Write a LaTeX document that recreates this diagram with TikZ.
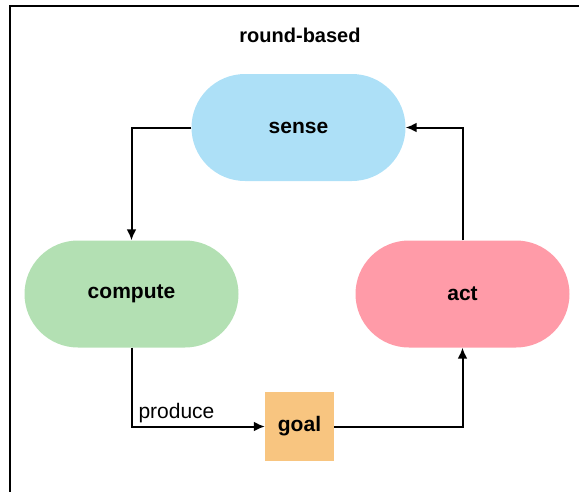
\documentclass[tikz,border=0pt]{standalone}
\usepackage{fontspec}
\setmainfont{Liberation Sans}
\usetikzlibrary{positioning, arrows.meta}

\definecolor{senseblue}{HTML}{ADE0F7}
\definecolor{computegreen}{HTML}{B3E0B3}
\definecolor{actred}{HTML}{FF9BA8}
\definecolor{goalorange}{HTML}{F8C580}

\begin{document}
\begin{tikzpicture}[x=1pt, y=-1pt,
        stage/.style={rectangle, rounded corners=53.5pt, minimum width=214pt, minimum height=107pt, inner sep=0pt, font=\fontsize{21}{24}\selectfont\bfseries},
        goalbox/.style={rectangle, fill=goalorange, minimum width=69pt, minimum height=69pt, inner sep=0pt, font=\fontsize{21}{24}\selectfont\bfseries},
        flow/.style={-{Latex[length=11pt, width=10pt]}, line width=2pt}]
        \useasboundingbox (0,0) rectangle (579,491);

        % frame
        \begin{scope}
            \clip (0,0) rectangle (579,491);
            \draw[line width=2.2pt] (10,500) -- (10,6) -- (590,6);
        \end{scope}

        % title
        \node[font=\fontsize{20}{24}\selectfont\bfseries] (title) at (300,35) {round-based};

        % stages
        \node[stage, fill=senseblue] (sense) at (298.5,127.5) {sense};
        \node[stage, fill=computegreen] (compute) at (131.5,294) {compute};
        \node[stage, fill=actred] (act) at (462.5,294) {act};
        \node[goalbox] (goal) at (299.5,426.5) {goal};

        % sense -> compute
        \draw[flow] (sense.west) -| (compute.north);

        % compute -> goal
        \draw[flow] (compute.south) |- (goal.west) node [pos=0.5, anchor=south west, inner sep=3pt, xshift=3pt, font=\fontsize{21}{24}\selectfont] {produce};

        % goal -> act
        \draw[flow] (goal.east) -| (act.south);

        % act -> sense
        \draw[flow] (act.north) |- (sense.east);
    \end{tikzpicture}
\end{document}
